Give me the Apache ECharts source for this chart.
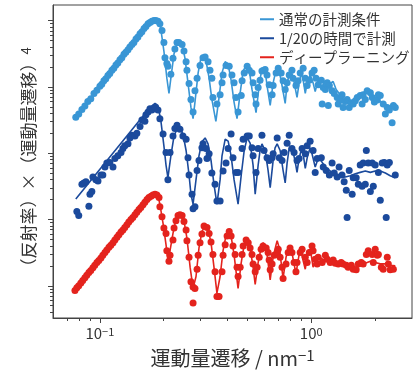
<!DOCTYPE html>
<html>
<head>
<meta charset="utf-8">
<script src="https://cdn.jsdelivr.net/npm/echarts@6/dist/echarts.min.js"></script>
<style>
  html, body { margin: 0; padding: 0; background: #fff; }
  #chart { width: 414px; height: 373px; }
</style>
</head>
<body>
<div id="chart"></div>
<script>
// values are log10: x = log10(q / nm^-1), y = log10(R*q^4) in arb. units (curves offset)
const normalDots = [
  [-1.114, 2.54], [-1.100, 2.59], [-1.085, 2.66], [-1.071, 2.71], [-1.057, 2.78], [-1.043, 2.82],
  [-1.028, 2.90], [-1.014, 2.95], [-1.000, 3.01], [-0.991, 3.04], [-0.981, 3.09], [-0.972, 3.12],
  [-0.962, 3.17], [-0.953, 3.20], [-0.943, 3.25], [-0.934, 3.28], [-0.924, 3.33], [-0.915, 3.36],
  [-0.905, 3.41], [-0.896, 3.44], [-0.886, 3.49], [-0.877, 3.52], [-0.867, 3.56], [-0.858, 3.60],
  [-0.848, 3.64], [-0.839, 3.67], [-0.829, 3.72], [-0.820, 3.75], [-0.810, 3.80], [-0.801, 3.83],
  [-0.791, 3.88], [-0.782, 3.91], [-0.772, 3.95], [-0.763, 3.97], [-0.754, 3.99], [-0.744, 4.00],
  [-0.735, 4.00], [-0.725, 3.99], [-0.716, 3.95],
  [-0.706, 3.85], [-0.697, 3.67], [-0.692, 3.44], [-0.683, 3.35], [-0.678, 3.31], [-0.664, 3.19],
  [-0.654, 3.43], [-0.645, 3.57], [-0.635, 3.67], [-0.626, 3.67], [-0.611, 3.64], [-0.602, 3.54],
  [-0.592, 3.38], [-0.588, 3.25], [-0.578, 3.05], [-0.569, 2.81], [-0.559, 2.62], [-0.550, 2.94],
  [-0.540, 3.13], [-0.526, 3.32], [-0.512, 3.44], [-0.502, 3.45], [-0.488, 3.38], [-0.479, 3.25],
  [-0.470, 3.13], [-0.465, 2.84], [-0.446, 2.74], [-0.431, 2.88], [-0.422, 3.06], [-0.417, 3.18],
  [-0.403, 3.32], [-0.388, 3.31], [-0.375, 3.18], [-0.365, 3.06], [-0.356, 2.84], [-0.346, 2.62],
  [-0.331, 2.87], [-0.327, 3.09], [-0.317, 3.21], [-0.303, 3.31], [-0.293, 3.25], [-0.280, 3.21],
  [-0.275, 3.06], [-0.265, 2.88], [-0.261, 2.74], [-0.251, 2.99], [-0.242, 3.10], [-0.233, 3.24],
  [-0.218, 3.26], [-0.209, 3.18], [-0.199, 3.03], [-0.185, 2.88], [-0.180, 3.02], [-0.166, 3.21],
  [-0.156, 3.28], [-0.142, 3.21], [-0.133, 3.09], [-0.123, 2.96], [-0.114, 3.06], [-0.104, 3.18],
  [-0.091, 3.25], [-0.086, 3.13], [-0.072, 3.02], [-0.062, 3.09], [-0.052, 3.21], [-0.038, 3.28],
  [-0.028, 3.13], [-0.019, 3.02], [-0.009, 3.10], [0.004, 3.21], [0.014, 3.25], [0.023, 3.13],
  [0.033, 3.03], [0.048, 3.10], [0.052, 2.74], [0.057, 2.99], [0.067, 2.96], [0.076, 3.06],
  [0.081, 2.72], [0.086, 3.02], [0.099, 2.94], [0.109, 2.90], [0.123, 2.84], [0.128, 2.74],
  [0.137, 2.80], [0.146, 2.88], [0.151, 2.69], [0.161, 2.78], [0.170, 2.81], [0.180, 2.69],
  [0.190, 2.76], [0.199, 2.74], [0.209, 2.79], [0.218, 2.84], [0.232, 2.87], [0.241, 2.74],
  [0.246, 2.88], [0.256, 2.81], [0.265, 2.94], [0.280, 2.91], [0.289, 2.84], [0.299, 2.77],
  [0.313, 2.80], [0.318, 2.88], [0.327, 2.87], [0.341, 2.74], [0.351, 2.59], [0.360, 2.69],
  [0.370, 2.65], [0.383, 2.46], [0.389, 2.72], [0.398, 2.69]
];
const normalFit = [
  [-1.114, 2.53], [-0.772, 3.95], [-0.754, 3.99], [-0.735, 4.00], [-0.720, 3.98], [-0.711, 3.86],
  [-0.697, 3.54], [-0.683, 3.13], [-0.673, 2.90], [-0.664, 3.13], [-0.649, 3.50], [-0.635, 3.66],
  [-0.626, 3.70], [-0.611, 3.64], [-0.597, 3.43], [-0.583, 3.06], [-0.569, 2.69], [-0.559, 2.52],
  [-0.550, 2.77], [-0.535, 3.21], [-0.521, 3.45], [-0.512, 3.48], [-0.498, 3.40], [-0.483, 3.13],
  [-0.470, 2.81], [-0.451, 2.48], [-0.436, 2.84], [-0.422, 3.21], [-0.407, 3.38], [-0.393, 3.34],
  [-0.379, 3.10], [-0.365, 2.77], [-0.351, 2.52], [-0.336, 2.91], [-0.322, 3.24], [-0.308, 3.32],
  [-0.293, 3.25], [-0.280, 2.96], [-0.261, 2.61], [-0.246, 3.02], [-0.233, 3.29], [-0.218, 3.25],
  [-0.209, 3.02], [-0.194, 2.72], [-0.180, 3.06], [-0.166, 3.26], [-0.151, 3.24], [-0.138, 3.02],
  [-0.123, 2.75], [-0.114, 3.05], [-0.100, 3.25], [-0.086, 3.16], [-0.076, 2.99], [-0.067, 2.84],
  [-0.057, 3.06], [-0.047, 3.21], [-0.038, 3.10], [-0.028, 2.90], [-0.019, 3.06], [-0.005, 3.18],
  [0.009, 3.06], [0.019, 2.93], [0.033, 3.10], [0.048, 3.13], [0.062, 3.02], [0.076, 2.96],
  [0.090, 3.05], [0.104, 3.08], [0.118, 2.96], [0.137, 2.88], [0.161, 2.81], [0.185, 2.75],
  [0.209, 2.80], [0.232, 2.88], [0.256, 2.93], [0.280, 2.90], [0.304, 2.84], [0.327, 2.78],
  [0.351, 2.74], [0.374, 2.69], [0.398, 2.68]
];
const fastDots = [
  [-1.109, 1.12], [-1.100, 1.06], [-1.085, 1.53], [-1.076, 1.55], [-1.066, 1.57], [-1.052, 1.20],
  [-1.047, 1.38], [-1.038, 1.42], [-1.033, 1.64], [-1.019, 1.60], [-1.009, 1.58], [-0.995, 1.67],
  [-0.986, 1.67], [-0.976, 1.79], [-0.967, 1.85], [-0.953, 1.86], [-0.938, 1.79], [-0.929, 1.92],
  [-0.915, 1.96], [-0.900, 2.01], [-0.891, 2.07], [-0.882, 2.11], [-0.867, 2.14], [-0.858, 2.23],
  [-0.848, 2.27], [-0.834, 2.26], [-0.825, 2.30], [-0.810, 2.40], [-0.801, 2.50], [-0.787, 2.48],
  [-0.782, 2.58], [-0.772, 2.62], [-0.763, 2.67], [-0.754, 2.65], [-0.739, 2.69], [-0.725, 2.65],
  [-0.716, 2.52], [-0.701, 2.29], [-0.687, 2.01], [-0.678, 1.60], [-0.668, 2.01], [-0.654, 2.26],
  [-0.645, 2.37], [-0.635, 2.42], [-0.621, 2.36], [-0.607, 2.26], [-0.592, 2.21], [-0.583, 1.93],
  [-0.578, 1.67], [-0.564, 1.38], [-0.559, 1.16], [-0.550, 1.19], [-0.540, 1.74], [-0.531, 1.89],
  [-0.517, 2.08], [-0.512, 2.14], [-0.498, 2.07], [-0.493, 1.92], [-0.483, 1.99], [-0.470, 1.70],
  [-0.455, 1.53], [-0.446, 1.28], [-0.431, 1.28], [-0.417, 1.73], [-0.403, 1.85], [-0.393, 2.07],
  [-0.379, 2.29], [-0.370, 1.93], [-0.356, 1.71], [-0.346, 1.71], [-0.327, 2.07], [-0.322, 2.21],
  [-0.303, 2.26], [-0.293, 2.26], [-0.280, 2.08], [-0.275, 1.96], [-0.261, 1.71], [-0.251, 2.07],
  [-0.233, 2.27], [-0.223, 2.04], [-0.209, 1.93], [-0.199, 1.89], [-0.185, 1.93], [-0.180, 1.99],
  [-0.161, 2.23], [-0.151, 1.93], [-0.138, 1.89], [-0.128, 2.01], [-0.114, 2.15], [-0.104, 2.27],
  [-0.091, 2.07], [-0.081, 2.01], [-0.067, 1.89], [-0.057, 1.92], [-0.043, 2.07], [-0.028, 1.99],
  [-0.019, 2.11], [-0.005, 2.18], [0.009, 2.04], [0.019, 1.71], [0.028, 1.92], [0.048, 1.93],
  [0.057, 1.79], [0.071, 1.74], [0.086, 1.67], [0.099, 1.85], [0.109, 1.70], [0.123, 1.64],
  [0.132, 1.79], [0.146, 1.67], [0.156, 1.57], [0.166, 1.44], [0.170, 1.03], [0.180, 1.74],
  [0.194, 1.38], [0.199, 1.63], [0.213, 1.63], [0.223, 1.53], [0.232, 1.82], [0.241, 1.50],
  [0.246, 1.85], [0.256, 1.53], [0.261, 2.04], [0.270, 1.85], [0.280, 1.42], [0.289, 1.85],
  [0.294, 1.50], [0.303, 1.82], [0.318, 1.71], [0.327, 1.29], [0.336, 1.85], [0.346, 1.86],
  [0.355, 1.03], [0.360, 1.82], [0.370, 1.86], [0.398, 1.67]
];
const fastFit = [
  [-1.114, 1.31], [-0.763, 2.69], [-0.739, 2.75], [-0.725, 2.72], [-0.711, 2.48], [-0.697, 2.11],
  [-0.687, 1.82], [-0.678, 1.63], [-0.664, 1.96], [-0.649, 2.26], [-0.635, 2.36], [-0.621, 2.37],
  [-0.607, 2.29], [-0.592, 2.04], [-0.578, 1.67], [-0.569, 1.38], [-0.559, 1.23], [-0.545, 1.60],
  [-0.531, 1.96], [-0.517, 2.17], [-0.502, 2.23], [-0.488, 2.14], [-0.474, 1.89], [-0.460, 1.53],
  [-0.446, 1.23], [-0.431, 1.60], [-0.422, 1.96], [-0.407, 2.21], [-0.393, 2.18], [-0.379, 1.96],
  [-0.365, 1.60], [-0.346, 1.23], [-0.331, 1.67], [-0.317, 2.04], [-0.303, 2.23], [-0.289, 2.15],
  [-0.275, 1.82], [-0.265, 1.38], [-0.251, 1.82], [-0.242, 2.04], [-0.233, 2.14], [-0.218, 2.04],
  [-0.204, 1.74], [-0.194, 1.48], [-0.180, 1.89], [-0.171, 2.08], [-0.161, 2.14], [-0.147, 2.04],
  [-0.133, 1.74], [-0.123, 1.55], [-0.114, 1.85], [-0.104, 2.08], [-0.095, 2.11], [-0.086, 2.02],
  [-0.076, 1.88], [-0.067, 1.71], [-0.057, 1.93], [-0.047, 2.04], [-0.038, 1.99], [-0.028, 1.77],
  [-0.019, 1.93], [-0.005, 2.08], [0.004, 1.99], [0.019, 1.79], [0.033, 1.92], [0.048, 1.88],
  [0.067, 1.79], [0.090, 1.73], [0.114, 1.69], [0.137, 1.66], [0.161, 1.64], [0.185, 1.66],
  [0.209, 1.69], [0.232, 1.71], [0.256, 1.73], [0.280, 1.71], [0.303, 1.73], [0.327, 1.73],
  [0.351, 1.70], [0.374, 1.66], [0.398, 1.63]
];
const dlDots = [
  [-1.118, -0.07], [-1.109, -0.03], [-1.100, 0.00], [-1.090, 0.04], [-1.081, 0.08], [-1.071, 0.12],
  [-1.062, 0.16], [-1.052, 0.20], [-1.043, 0.23], [-1.033, 0.27], [-1.024, 0.31], [-1.014, 0.35],
  [-1.005, 0.38], [-0.995, 0.42], [-0.986, 0.46], [-0.976, 0.50], [-0.967, 0.54], [-0.957, 0.58],
  [-0.948, 0.61], [-0.938, 0.65], [-0.929, 0.69], [-0.919, 0.73], [-0.910, 0.77], [-0.900, 0.81],
  [-0.891, 0.84], [-0.882, 0.88], [-0.872, 0.92], [-0.863, 0.96], [-0.853, 1.00], [-0.844, 1.03],
  [-0.834, 1.07], [-0.825, 1.11], [-0.815, 1.15], [-0.806, 1.18], [-0.796, 1.22], [-0.787, 1.26],
  [-0.777, 1.30], [-0.768, 1.33], [-0.758, 1.35], [-0.749, 1.37], [-0.739, 1.38], [-0.730, 1.37],
  [-0.720, 1.33],
  [-0.716, 1.19], [-0.706, 1.04], [-0.697, 0.87], [-0.687, 0.79], [-0.683, 0.53], [-0.673, 0.37],
  [-0.668, 0.46], [-0.654, 0.69], [-0.649, 0.87], [-0.640, 0.98], [-0.630, 1.06], [-0.621, 1.07],
  [-0.611, 1.06], [-0.602, 0.97], [-0.592, 0.84], [-0.588, 0.68], [-0.578, 0.43], [-0.569, 0.06],
  [-0.559, -0.02], [-0.550, -0.04], [-0.559, -0.26], [-0.540, 0.25], [-0.535, 0.46], [-0.526, 0.65],
  [-0.517, 0.78], [-0.507, 0.90], [-0.493, 0.88], [-0.483, 0.79], [-0.474, 0.66], [-0.465, 0.47],
  [-0.455, 0.21], [-0.446, -0.16], [-0.436, -0.16], [-0.422, 0.21], [-0.417, 0.46], [-0.407, 0.62],
  [-0.398, 0.75], [-0.388, 0.82], [-0.379, 0.75], [-0.370, 0.60], [-0.360, 0.47], [-0.351, 0.28],
  [-0.346, 0.14], [-0.336, 0.28], [-0.327, 0.47], [-0.322, 0.60], [-0.308, 0.69], [-0.298, 0.65],
  [-0.289, 0.57], [-0.280, 0.47], [-0.275, 0.33], [-0.265, 0.21], [-0.256, 0.28], [-0.246, 0.43],
  [-0.237, 0.55], [-0.228, 0.60], [-0.213, 0.57], [-0.204, 0.50], [-0.199, 0.39], [-0.194, 0.24],
  [-0.185, 0.33], [-0.175, 0.46], [-0.161, 0.50], [-0.156, 0.55], [-0.147, 0.43], [-0.138, 0.28],
  [-0.133, 0.11], [-0.119, 0.33], [-0.109, 0.50], [-0.100, 0.57], [-0.091, 0.50], [-0.081, 0.35],
  [-0.072, 0.21], [-0.067, 0.35], [-0.052, 0.50], [-0.043, 0.55], [-0.028, 0.43], [-0.019, 0.35],
  [-0.009, 0.50], [0.004, 0.60], [0.009, 0.53], [0.019, 0.40], [0.028, 0.33], [0.033, 0.43],
  [0.052, 0.35], [0.067, 0.46], [0.076, 0.40], [0.090, 0.35], [0.104, 0.39], [0.114, 0.34],
  [0.128, 0.33], [0.142, 0.35], [0.151, 0.33], [0.166, 0.31], [0.175, 0.28], [0.190, 0.31],
  [0.199, 0.25], [0.213, 0.24], [0.223, 0.33], [0.237, 0.35], [0.246, 0.33], [0.261, 0.47],
  [0.270, 0.53], [0.289, 0.47], [0.294, 0.35], [0.303, 0.55], [0.313, 0.46], [0.318, 0.47],
  [0.332, 0.28], [0.341, 0.25], [0.360, 0.43], [0.365, 0.33], [0.374, 0.24], [0.389, 0.25]
];
const dlFit = [
  [-1.118, -0.07], [-0.777, 1.31], [-0.758, 1.38], [-0.739, 1.39], [-0.725, 1.36], [-0.716, 1.23],
  [-0.701, 0.94], [-0.687, 0.62], [-0.678, 0.38], [-0.668, 0.53], [-0.654, 0.79], [-0.640, 1.00],
  [-0.621, 1.07], [-0.602, 0.98], [-0.588, 0.72], [-0.573, 0.28], [-0.559, -0.04], [-0.545, 0.14],
  [-0.531, 0.57], [-0.517, 0.82], [-0.502, 0.90], [-0.488, 0.85], [-0.474, 0.65], [-0.460, 0.28],
  [-0.446, -0.11], [-0.431, 0.14], [-0.417, 0.53], [-0.403, 0.76], [-0.393, 0.82], [-0.379, 0.75],
  [-0.365, 0.47], [-0.346, -0.04], [-0.331, 0.35], [-0.317, 0.62], [-0.303, 0.69], [-0.289, 0.57],
  [-0.275, 0.28], [-0.265, 0.02], [-0.251, 0.35], [-0.237, 0.57], [-0.228, 0.65], [-0.213, 0.57],
  [-0.204, 0.35], [-0.194, 0.09], [-0.180, 0.43], [-0.166, 0.62], [-0.161, 0.68], [-0.151, 0.57],
  [-0.142, 0.35], [-0.133, 0.11], [-0.119, 0.43], [-0.104, 0.60], [-0.091, 0.50], [-0.081, 0.33],
  [-0.072, 0.18], [-0.062, 0.38], [-0.052, 0.56], [-0.043, 0.53], [-0.028, 0.25], [-0.019, 0.43],
  [-0.009, 0.55], [0.000, 0.47], [0.009, 0.28], [0.023, 0.43], [0.043, 0.42], [0.067, 0.38],
  [0.090, 0.35], [0.114, 0.33], [0.137, 0.33], [0.161, 0.31], [0.185, 0.30], [0.209, 0.28],
  [0.232, 0.30], [0.256, 0.34], [0.280, 0.37], [0.303, 0.35], [0.327, 0.33], [0.351, 0.33],
  [0.374, 0.31], [0.398, 0.30]
];

const seriesNames = ['通常の計測条件', '1/20の時間で計測', 'ディープラーニング'];
const xMajorQ = [0.1, 1];
const xTickLabels = ['10{s|−1}', '10{s|0}'];
const xMinorQ = [0.07, 0.08, 0.09, 0.2, 0.3, 0.4, 0.5, 0.6, 0.7, 0.8, 0.9, 2];
const qRange = [0.06, 3];
const yRange = [-0.486, 4.234];

const colors = ['#3996d5', '#1b4a9c', '#e4231d'];
const font = '"Noto Sans CJK JP", "Noto Sans", sans-serif';
const axisColor = '#444';
const textColor = '#333';

const xMajor = xMajorQ.map(Math.log10);
const xMinor = xMinorQ.map(Math.log10);
const yMajor = [];
const yMinor = [];
for (let n = -1; n <= 4; n++) {
  if (n >= yRange[0] && n <= yRange[1]) yMajor.push(n);
  for (let k = 2; k < 10; k++) {
    const v = n + Math.log10(k);
    if (v > yRange[0] && v < yRange[1]) yMinor.push(v);
  }
}

const chart = echarts.init(document.getElementById('chart'));

const dotSets = [normalDots, fastDots, dlDots];
const fitSets = [normalFit, fastFit, dlFit];
const series = [];
dotSets.forEach((d, i) => {
  series.push({
    name: seriesNames[i] + '（点）',
    type: 'scatter',
    data: d,
    symbolSize: 7,
    itemStyle: { color: colors[i], opacity: 1 },
    z: 2
  });
});
fitSets.forEach((d, i) => {
  series.push({
    name: seriesNames[i],
    type: 'line',
    data: d,
    showSymbol: false,
    symbol: 'none',
    lineStyle: { color: colors[i], width: 1.6 },
    itemStyle: { color: colors[i] },
    z: 3
  });
});

// second axis on the same side, only for the short log minor ticks
const minorAxis = (min, max, pos, vals) => ({
  type: 'value', min, max, position: pos,
  axisLine: { show: false, onZero: false },
  axisTick: { show: true, customValues: vals, length: 3, lineStyle: { color: axisColor } },
  axisLabel: { show: false },
  splitLine: { show: false }
});

chart.setOption({
  animation: false,
  textStyle: { fontFamily: font },
  grid: { left: 53, right: 2, top: 5, bottom: 45, show: true, borderColor: axisColor, borderWidth: 1 },
  legend: {
    data: seriesNames,
    orient: 'vertical',
    left: 255,
    top: 7,
    icon: 'rect',
    itemWidth: 14,
    itemHeight: 2,
    itemGap: 4.5,
    textStyle: { fontSize: 14.5, color: textColor, fontFamily: font }
  },
  xAxis: [
    {
      type: 'value', min: Math.log10(qRange[0]), max: Math.log10(qRange[1]), position: 'bottom',
      axisLine: { show: true, onZero: false, lineStyle: { color: axisColor } },
      axisTick: { show: true, customValues: xMajor, length: 5, lineStyle: { color: axisColor } },
      axisLabel: {
        customValues: xMajor,
        margin: 8,
        formatter: v => {
          const i = xMajor.findIndex(m => Math.abs(m - v) < 1e-9);
          return i >= 0 ? '{m|' + xTickLabels[i].replace('{s|', '}{s|') : '';
        },
        rich: {
          m: { fontSize: 15, color: textColor, fontFamily: font },
          s: { fontSize: 11, color: textColor, fontFamily: font, verticalAlign: 'top' }
        }
      },
      splitLine: { show: false },
      name: '{t|運動量遷移 / nm}{s|−1}',
      nameLocation: 'middle',
      nameGap: 30,
      nameTextStyle: {
        rich: {
          t: { fontSize: 20, color: textColor, fontFamily: font },
          s: { fontSize: 15, color: textColor, fontFamily: font, verticalAlign: 'top' }
        }
      }
    },
    minorAxis(Math.log10(qRange[0]), Math.log10(qRange[1]), 'bottom', xMinor)
  ],
  yAxis: [
    {
      type: 'value', min: yRange[0], max: yRange[1], position: 'left',
      axisLine: { show: true, onZero: false, lineStyle: { color: axisColor } },
      axisTick: { show: true, customValues: yMajor, length: 5, lineStyle: { color: axisColor } },
      axisLabel: { show: false },
      splitLine: { show: false },
      name: '{t|（反射率）×（運動量遷移）}{s|4}',
      nameLocation: 'middle',
      nameGap: 16,
      nameTextStyle: {
        rich: {
          t: { fontSize: 17, color: textColor, fontFamily: font },
          s: { fontSize: 13, color: textColor, fontFamily: font, verticalAlign: 'top' }
        }
      }
    },
    minorAxis(yRange[0], yRange[1], 'left', yMinor)
  ],
  series
});
</script>
</body>
</html>
